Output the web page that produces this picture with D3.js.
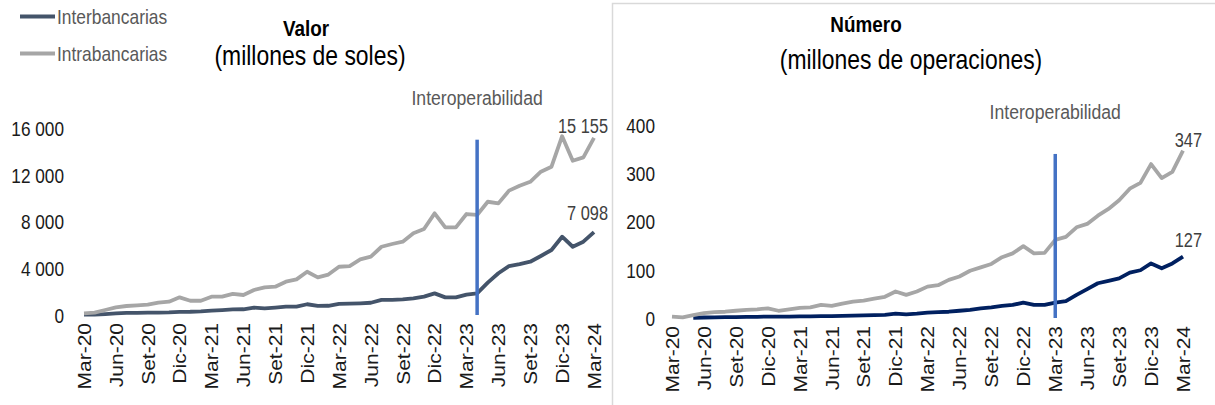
<!DOCTYPE html>
<html>
<head>
<meta charset="utf-8">
<script src="https://cdn.jsdelivr.net/npm/d3@7"></script>
<style>
  body { margin: 0; background: #fff; }
  svg text { font-family: "Liberation Sans", Arial, sans-serif; }
</style>
</head>
<body>
<div id="chart"></div>
<script>
// categorias (marzo 2020 - marzo 2024)
const meses = [
  "Mar-20","Abr-20","May-20","Jun-20","Jul-20","Ago-20","Set-20","Oct-20","Nov-20","Dic-20",
  "Ene-21","Feb-21","Mar-21","Abr-21","May-21","Jun-21","Jul-21","Ago-21","Set-21","Oct-21","Nov-21","Dic-21",
  "Ene-22","Feb-22","Mar-22","Abr-22","May-22","Jun-22","Jul-22","Ago-22","Set-22","Oct-22","Nov-22","Dic-22",
  "Ene-23","Feb-23","Mar-23","Abr-23","May-23","Jun-23","Jul-23","Ago-23","Set-23","Oct-23","Nov-23","Dic-23",
  "Ene-24","Feb-24","Mar-24"
];
const etiquetasX = ["Mar-20","Jun-20","Set-20","Dic-20","Mar-21","Jun-21","Set-21","Dic-21",
  "Mar-22","Jun-22","Set-22","Dic-22","Mar-23","Jun-23","Set-23","Dic-23","Mar-24"];

// Valor (millones de soles)
const valorInter = [30,30,80,140,190,190,200,210,220,270,280,310,380,420,480,490,630,570,630,710,720,920,
  780,790,950,970,1000,1050,1300,1300,1330,1430,1570,1850,1510,1510,1750,1850,2770,3570,4190,4360,4560,
  5050,5560,6700,5840,6270,7098];
const valorIntra = [145,200,430,660,770,830,880,1050,1140,1510,1220,1220,1570,1570,1800,1710,2140,2370,2420,
  2850,3050,3700,3220,3460,4130,4190,4760,4990,5840,6075,6270,6990,7360,8700,7500,7500,8640,8560,9690,
  9550,10640,11060,11400,12260,12690,15300,13200,13490,15155];

// Numero (millones de operaciones)
const numeroInter = [null,null,0.5,1,1.5,2,2,2.5,2.5,3,3,3,3.5,3.5,4,4,4.5,5,5.5,6,6.5,9,7.5,9,11,12,13,15,
  17,20,22,25,27,32,27,27,32,35,48,60,72,77,82,94,99,113,103,113,127];
const numeroIntra = [3,1.5,6,10,12,13,15,17,18,20,15,18,21,22,27,25,30,34,36,40,44,55,48,55,65,68,79,86,
  98,105,112,126,134,149,134,135,162,168,188,195,212,226,244,268,280,319,290,303,347];

const ticksValor = [0, 4000, 8000, 12000, 16000];
const ticksNumero = [0, 100, 200, 300, 400];

const COMPRESION = 0.84; // el original esta achatado en horizontal
const fmt = d3.formatLocale({ decimal: ",", thousands: " ", grouping: [3], currency: ["", ""] }).format(",");

let svg = d3.select("#chart").append("svg")
  .attr("width", 1215)
  .attr("height", 405);

function texto(g, x, y, str, size, color, anchor, weight) {
  return g.append("text")
    .attr("transform", "translate(" + x + "," + y + ") scale(" + COMPRESION + ",1)")
    .attr("text-anchor", anchor || "start")
    .attr("font-size", size)
    .attr("font-weight", weight || "normal")
    .attr("fill", color)
    .text(str);
}

function dibujarPanel(cfg) {
  let g = svg.append("g");

  //=================================================
  // Escalas
  //=================================================
  let x = d3.scalePoint().domain(meses).range(cfg.rangoX);
  let y = d3.scaleLinear().domain([0, cfg.maxY]).range(cfg.rangoY);

  //=================================================
  // Eje Y
  //=================================================
  let ejeY = g.append("g")
    .attr("transform", "translate(" + cfg.rangoX[0] + ",0)")
    .call(d3.axisLeft(y).tickValues(cfg.ticksY).tickFormat(fmt).tickSize(0))
    .attr("font-family", null)
    .attr("font-size", 20.5);
  ejeY.select(".domain").remove();
  ejeY.selectAll("text")
    .attr("x", 0)
    .attr("dy", "0.36em")
    .attr("fill", "#1a1a1a")
    .attr("transform", "translate(" + (-cfg.padY) + ",0) scale(" + COMPRESION + ",1)");

  //=================================================
  // Eje X (etiquetas verticales)
  //=================================================
  let ejeX = g.append("g")
    .attr("transform", "translate(0," + cfg.rangoY[0] + ")")
    .call(d3.axisBottom(x).tickValues(etiquetasX).tickSize(0))
    .attr("font-family", null)
    .attr("font-size", 21);
  ejeX.select(".domain").remove();
  ejeX.selectAll("text")
    .attr("x", 0)
    .attr("y", 0)
    .attr("dy", "0.36em")
    .attr("text-anchor", "end")
    .attr("fill", "#1a1a1a")
    .attr("transform", "translate(0," + cfg.padX + ") rotate(-90) scale(1," + COMPRESION + ")");

  //=================================================
  // Series
  //=================================================
  let linea = d3.line()
    .defined(d => d != null)
    .x((d, i) => x(meses[i]))
    .y(d => y(d));

  cfg.series.forEach(function (s) {
    g.append("path")
      .datum(s.datos)
      .attr("fill", "none")
      .attr("stroke", s.color)
      .attr("stroke-width", 3.8)
      .attr("stroke-linejoin", "round")
      .attr("d", linea);
  });

  //=================================================
  // Marcador de interoperabilidad
  //=================================================
  let xm = x(cfg.marcador);
  g.append("line")
    .attr("x1", xm).attr("x2", xm)
    .attr("y1", y(0)).attr("y2", y(cfg.topeMarcador))
    .attr("stroke", "#4472c4")
    .attr("stroke-width", 3.5);
  texto(g, xm, y(cfg.topeMarcador) - 35, "Interoperabilidad", 21, "#595959", "middle");

  // etiquetas del ultimo dato
  let ult = meses[meses.length - 1];
  cfg.series.forEach(function (s) {
    let v = s.datos[s.datos.length - 1];
    texto(g, x(ult) + cfg.dxEtiqueta, y(v) + s.dyEtiqueta, fmt(v), 19.5, "#404040", "end");
  });

  //=================================================
  // Titulo
  //=================================================
  texto(g, cfg.titulo.x, cfg.titulo.y, cfg.titulo.texto, 22.5, "#000", "middle", "bold");
  texto(g, cfg.subtitulo.x, cfg.subtitulo.y, cfg.subtitulo.texto, 27.3, "#000", "middle");
}

dibujarPanel({
  rangoX: [84, 594], rangoY: [315, 128], maxY: 16000, ticksY: ticksValor,
  padY: 20, padX: 8,
  marcador: "Abr-23", topeMarcador: 15000,
  dxEtiqueta: 14,
  series: [
    { datos: valorInter, color: "#44546a", dyEtiqueta: -12 },
    { datos: valorIntra, color: "#a6a6a6", dyEtiqueta: -5 }
  ],
  titulo: { texto: "Valor", x: 306, y: 36 },
  subtitulo: { texto: "(millones de soles)", x: 310, y: 65 }
});

dibujarPanel({
  rangoX: [672, 1183], rangoY: [318, 125], maxY: 400, ticksY: ticksNumero,
  padY: 17, padX: 8,
  marcador: "Mar-23", topeMarcador: 340,
  dxEtiqueta: 19,
  series: [
    { datos: numeroInter, color: "#002060", dyEtiqueta: -10 },
    { datos: numeroIntra, color: "#a6a6a6", dyEtiqueta: -4 }
  ],
  titulo: { texto: "Número", x: 866, y: 32 },
  subtitulo: { texto: "(millones de operaciones)", x: 911, y: 69 }
});

//=================================================
// Borde del panel derecho
//=================================================
svg.append("path")
  .attr("d", "M612.5,405V3.5H1215")
  .attr("fill", "none")
  .attr("stroke", "#d9d9d9")
  .attr("stroke-width", 1.5);

//=================================================
// Leyenda
//=================================================
const leyenda = [
  { nombre: "Interbancarias", color: "#44546a" },
  { nombre: "Intrabancarias", color: "#a6a6a6" }
];
let gLey = svg.append("g");
leyenda.forEach(function (l, i) {
  let yy = 16.5 + i * 37;
  gLey.append("line")
    .attr("x1", 20).attr("x2", 55)
    .attr("y1", yy).attr("y2", yy)
    .attr("stroke", l.color)
    .attr("stroke-width", 4);
  texto(gLey, 57, yy + 7.5, l.nombre, 20.7, "#595959");
});
</script>
</body>
</html>
